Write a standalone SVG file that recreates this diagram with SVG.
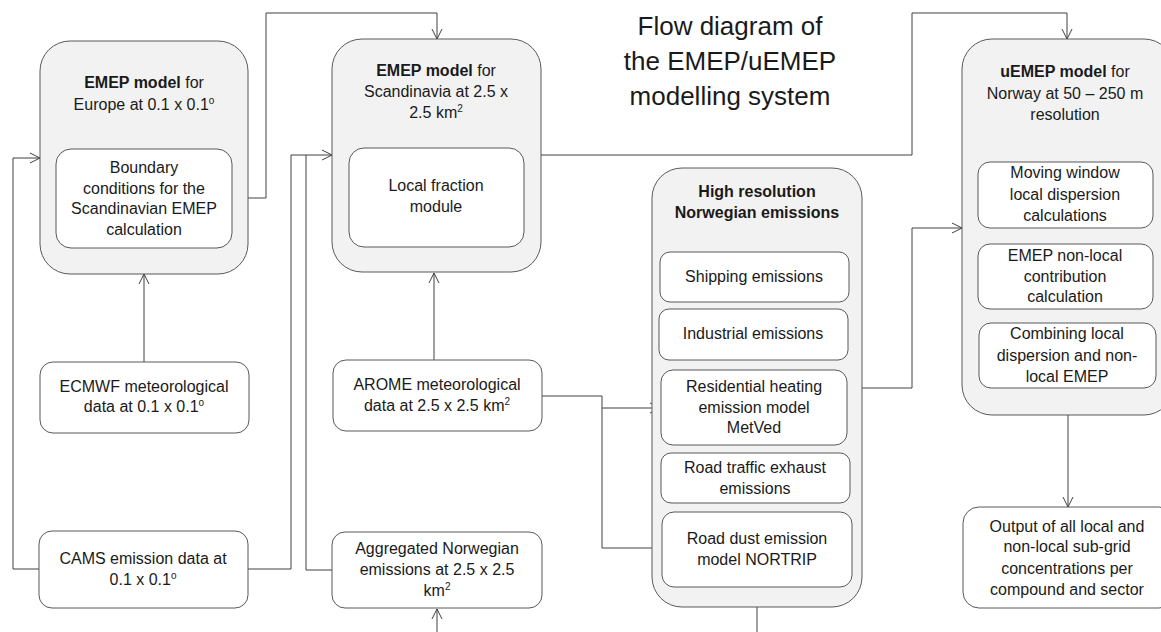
<svg xmlns="http://www.w3.org/2000/svg" width="1161" height="632" viewBox="0 0 1161 632">
<style>
.outer{fill:#f2f2f2;stroke:#595959;stroke-width:1}
.inner{fill:#ffffff;stroke:#595959;stroke-width:1}
text{font-family:"Liberation Sans",Arial,sans-serif;font-size:16px;fill:#1a1a1a;text-anchor:middle}
.b{font-weight:bold}
.title{font-size:26px}
.c{fill:none;stroke:#404040;stroke-width:1}
.a{marker-end:url(#arr)}
</style>
<defs>
<marker id="arr" markerUnits="userSpaceOnUse" markerWidth="12" markerHeight="12" viewBox="0 0 12 12" refX="11" refY="6" orient="auto">
<path d="M1,1 L11,6 L1,11" fill="none" stroke="#404040" stroke-width="1"/>
</marker>
</defs>
<rect width="1161" height="632" fill="#ffffff"/>

<g id="title">
<text class="title" x="730" y="35">Flow diagram of</text>
<text class="title" x="730" y="70">the EMEP/uEMEP</text>
<text class="title" x="730" y="105">modelling system</text>
</g>

<g id="connectors">
<path class="c a" d="M144,362 V274"/>
<path class="c a" d="M39,569 H13 V158 H40"/>
<path class="c a" d="M248,569 H291 V155 H332"/>
<path class="c" d="M332,570 H306 V155"/>
<path class="c a" d="M232,198 H266 V13 H437 V39"/>
<path class="c a" d="M434,360 V273"/>
<path class="c a" d="M542,396 H602 V408 H660"/>
<path class="c a" d="M602,408 V548 H668"/>
<path class="c a" d="M541,155 H912 V13 H1067 V39"/>
<path class="c a" d="M862,388 H912 V228 H962"/>
<path class="c a" d="M1068,415 V507"/>
<path class="c a" d="M437,632 V609"/>
<path class="c" d="M757,607 V632"/>
</g>

<g id="emep-europe">
<rect class="outer" x="40" y="41" width="208" height="233" rx="30"/>
<text x="144" y="88"><tspan class="b">EMEP model</tspan> for</text>
<text x="144" y="110">Europe at 0.1 x 0.1<tspan font-size="10" dy="-6">o</tspan></text>
</g>
<g id="boundary">
<rect class="inner" x="56" y="149" width="176" height="99" rx="15"/>
<text x="144" y="173">Boundary</text>
<text x="144" y="194">conditions for the</text>
<text x="144" y="214">Scandinavian EMEP</text>
<text x="144" y="235">calculation</text>
</g>

<g id="emep-scandinavia">
<rect class="outer" x="332" y="39" width="209" height="233" rx="30"/>
<text x="436" y="76"><tspan class="b">EMEP model</tspan> for</text>
<text x="436" y="97">Scandinavia at 2.5 x</text>
<text x="436" y="118">2.5 km<tspan font-size="10" dy="-6">2</tspan></text>
</g>
<g id="local-fraction">
<rect class="inner" x="349" y="148" width="175" height="99" rx="15"/>
<text x="436" y="191">Local fraction</text>
<text x="436" y="212">module</text>
</g>

<g id="ecmwf">
<rect class="inner" x="40" y="362" width="209" height="71" rx="13"/>
<text x="144" y="392">ECMWF meteorological</text>
<text x="144" y="412">data at 0.1 x 0.1<tspan font-size="10" dy="-6">o</tspan></text>
</g>

<g id="cams">
<rect class="inner" x="39" y="531" width="209" height="77" rx="13"/>
<text x="143" y="564">CAMS emission data at</text>
<text x="143" y="585">0.1 x 0.1<tspan font-size="10" dy="-6">o</tspan></text>
</g>

<g id="arome">
<rect class="inner" x="333" y="360" width="209" height="71" rx="13"/>
<text x="437" y="390">AROME meteorological</text>
<text x="437" y="411">data at 2.5 x 2.5 km<tspan font-size="10" dy="-6">2</tspan></text>
</g>

<g id="aggregated">
<rect class="inner" x="332" y="532" width="210" height="76" rx="13"/>
<text x="437" y="554">Aggregated Norwegian</text>
<text x="437" y="575">emissions at 2.5 x 2.5</text>
<text x="437" y="596">km<tspan font-size="10" dy="-6">2</tspan></text>
</g>

<g id="high-resolution">
<rect class="outer" x="652" y="168" width="210" height="439" rx="30"/>
<text class="b" x="757" y="197">High resolution</text>
<text class="b" x="757" y="218">Norwegian emissions</text>
</g>
<g id="shipping">
<rect class="inner" x="660" y="252" width="189" height="50" rx="10"/>
<text x="754" y="282">Shipping emissions</text>
</g>
<g id="industrial">
<rect class="inner" x="659" y="309" width="189" height="51" rx="10"/>
<text x="753" y="339">Industrial emissions</text>
</g>
<g id="residential">
<rect class="inner" x="661" y="370" width="186" height="75" rx="12"/>
<text x="754" y="392">Residential heating</text>
<text x="754" y="413">emission model</text>
<text x="754" y="433">MetVed</text>
</g>
<g id="road-traffic">
<rect class="inner" x="661" y="453" width="189" height="50" rx="10"/>
<text x="755" y="473">Road traffic exhaust</text>
<text x="755" y="494">emissions</text>
</g>
<g id="road-dust">
<rect class="inner" x="662" y="512" width="190" height="75" rx="12"/>
<text x="757" y="544">Road dust emission</text>
<text x="757" y="565">model NORTRIP</text>
</g>

<g id="uemep">
<rect class="outer" x="962" y="39" width="212" height="376" rx="30"/>
<text x="1065" y="77"><tspan class="b">uEMEP model</tspan> for</text>
<text x="1065" y="99">Norway at 50 – 250 m</text>
<text x="1065" y="120">resolution</text>
</g>
<g id="moving-window">
<rect class="inner" x="978" y="162" width="175" height="66" rx="12"/>
<text x="1065" y="178">Moving window</text>
<text x="1065" y="200">local dispersion</text>
<text x="1065" y="221">calculations</text>
</g>
<g id="non-local">
<rect class="inner" x="978" y="244" width="175" height="65" rx="12"/>
<text x="1065" y="261">EMEP non-local</text>
<text x="1065" y="282">contribution</text>
<text x="1065" y="302">calculation</text>
</g>
<g id="combining">
<rect class="inner" x="979" y="323" width="177" height="65" rx="12"/>
<text x="1067" y="339">Combining local</text>
<text x="1067" y="361">dispersion and non-</text>
<text x="1067" y="382">local EMEP</text>
</g>

<g id="output">
<rect class="inner" x="963" y="507" width="212" height="101" rx="16"/>
<text x="1067" y="532">Output of all local and</text>
<text x="1067" y="552">non-local sub-grid</text>
<text x="1067" y="574">concentrations per</text>
<text x="1067" y="595">compound and sector</text>
</g>
</svg>
